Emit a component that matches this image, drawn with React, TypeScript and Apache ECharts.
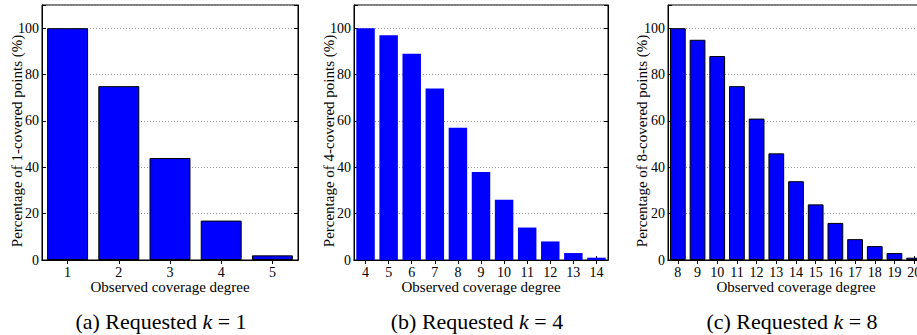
import React, { useEffect, useRef } from "react";
import * as echarts from "echarts";

const cats1 = ["1", "2", "3", "4", "5"];
const vals1 = [100, 75, 44, 17, 2];
const cats2 = ["4", "5", "6", "7", "8", "9", "10", "11", "12", "13", "14"];
const vals2 = [100, 97, 89, 74, 57, 38, 26, 14, 8, 3, 1];
const cats3 = ["8", "9", "10", "11", "12", "13", "14", "15", "16", "17", "18", "19", "20"];
const vals3 = [100, 95, 88, 75, 61, 46, 34, 24, 16, 9, 6, 3, 1];
const yNames = [
  "Percentage of 1-covered points (%)",
  "Percentage of 4-covered points (%)",
  "Percentage of 8-covered points (%)",
];
const xName = "Observed coverage degree";
const captions = [
  "(a) Requested {i|k} = 1",
  "(b) Requested {i|k} = 4",
  "(c) Requested {i|k} = 8",
];

const FONT = "'Liberation Serif', 'Times New Roman', Times, serif";
const W = 940;

export default function App() {
  const ref = useRef<HTMLDivElement>(null);
  useEffect(() => {
    const chart = echarts.init(ref.current!, null, { renderer: "svg" });
    const panels = [
      { cats: cats1, vals: vals1, left: 42, width: 256, border: 1, cx: 161, nx: 17 },
      { cats: cats2, vals: vals2, left: 354, width: 254, border: 0, cx: 477, nx: 329 },
      { cats: cats3, vals: vals3, left: 668, width: 256, border: 1, cx: 792, nx: 642 },
    ];
    const grid: any[] = [];
    const xAxis: any[] = [];
    const yAxis: any[] = [];
    const series: any[] = [];
    const graphic: any[] = [];
    panels.forEach((p, i) => {
      grid.push({
        left: p.left,
        right: W - p.left - p.width,
        top: 5,
        bottom: 335 - 260,
        show: true,
        borderColor: "#000",
        borderWidth: 1,
        backgroundColor: "transparent",
      });
      xAxis.push({
        type: "category",
        gridIndex: i,
        data: p.cats,
        position: "bottom",
        boundaryGap: true,
        axisLine: { show: true, lineStyle: { color: "#000", width: 1 } },
        axisTick: { show: true, inside: true, alignWithLabel: true, length: 4, lineStyle: { color: "#000" } },
        axisLabel: { color: "#000", fontFamily: FONT, fontSize: 14, lineHeight: 14, margin: 5, interval: 0 },
        splitLine: { show: false },
        name: xName,
        nameLocation: "middle",
        nameGap: 19,
        nameMoveOverlap: false,
        nameTextStyle: { color: "#000", fontFamily: FONT, fontSize: 15, lineHeight: 15 },
      });
      xAxis.push({
        type: "category",
        gridIndex: i,
        data: p.cats,
        position: "top",
        boundaryGap: true,
        axisLine: { show: true, lineStyle: { color: "#000", width: 1 } },
        axisTick: { show: true, inside: true, alignWithLabel: true, length: 4, lineStyle: { color: "#000" } },
        axisLabel: { show: false },
        splitLine: { show: false },
      });
      yAxis.push({
        type: "value",
        gridIndex: i,
        min: 0,
        max: 110,
        interval: 20,
        position: "left",
        axisLine: { show: true, lineStyle: { color: "#000", width: 1 } },
        axisTick: { show: true, inside: true, length: 4, lineStyle: { color: "#000" } },
        axisLabel: {
          color: "#000",
          fontFamily: FONT,
          fontSize: 14,
          lineHeight: 14,
          margin: 3,
          formatter: (v: number) => (v > 100 ? "" : String(v)),
        },
        splitLine: { show: true, lineStyle: { color: "#999", type: [1, 2], width: 1 } },
      });
      yAxis.push({
        type: "value",
        gridIndex: i,
        min: 0,
        max: 110,
        interval: 20,
        position: "right",
        axisLine: { show: true, lineStyle: { color: "#000", width: 1 } },
        axisTick: { show: true, inside: true, length: 4, lineStyle: { color: "#000" } },
        axisLabel: { show: false },
        splitLine: { show: false },
      });
      series.push({
        type: "bar",
        xAxisIndex: 2 * i,
        yAxisIndex: 2 * i,
        data: p.vals,
        barCategoryGap: "20%",
        itemStyle: {
          color: "#0000ff",
          borderColor: "#000",
          borderWidth: p.border,
        },
      });
      graphic.push({
        type: "text",
        x: p.nx,
        y: 141,
        rotation: Math.PI / 2,
        style: {
          text: yNames[i],
          fontFamily: FONT,
          fontSize: 15,
          lineHeight: 15,
          fill: "#000",
          align: "center",
          verticalAlign: "middle",
        },
      });
      graphic.push({
        type: "text",
        x: p.cx,
        y: 321,
        style: {
          text: captions[i],
          fontFamily: FONT,
          fontSize: 22,
          fill: "#000",
          align: "center",
          verticalAlign: "middle",
          rich: {
            i: { fontFamily: FONT, fontSize: 22, fontStyle: "italic", fill: "#000" },
          },
        },
      });
    });
    chart.setOption({
      animation: false,
      backgroundColor: "#fff",
      grid,
      xAxis,
      yAxis,
      series,
      graphic,
    });
    return () => chart.dispose();
  }, []);
  return (
    <div
      style={{
        position: "absolute",
        left: 0,
        top: 0,
        width: 917,
        height: 335,
        overflow: "hidden",
        background: "#fff",
      }}
    >
      <div ref={ref} style={{ width: W, height: 335 }} />
    </div>
  );
}
